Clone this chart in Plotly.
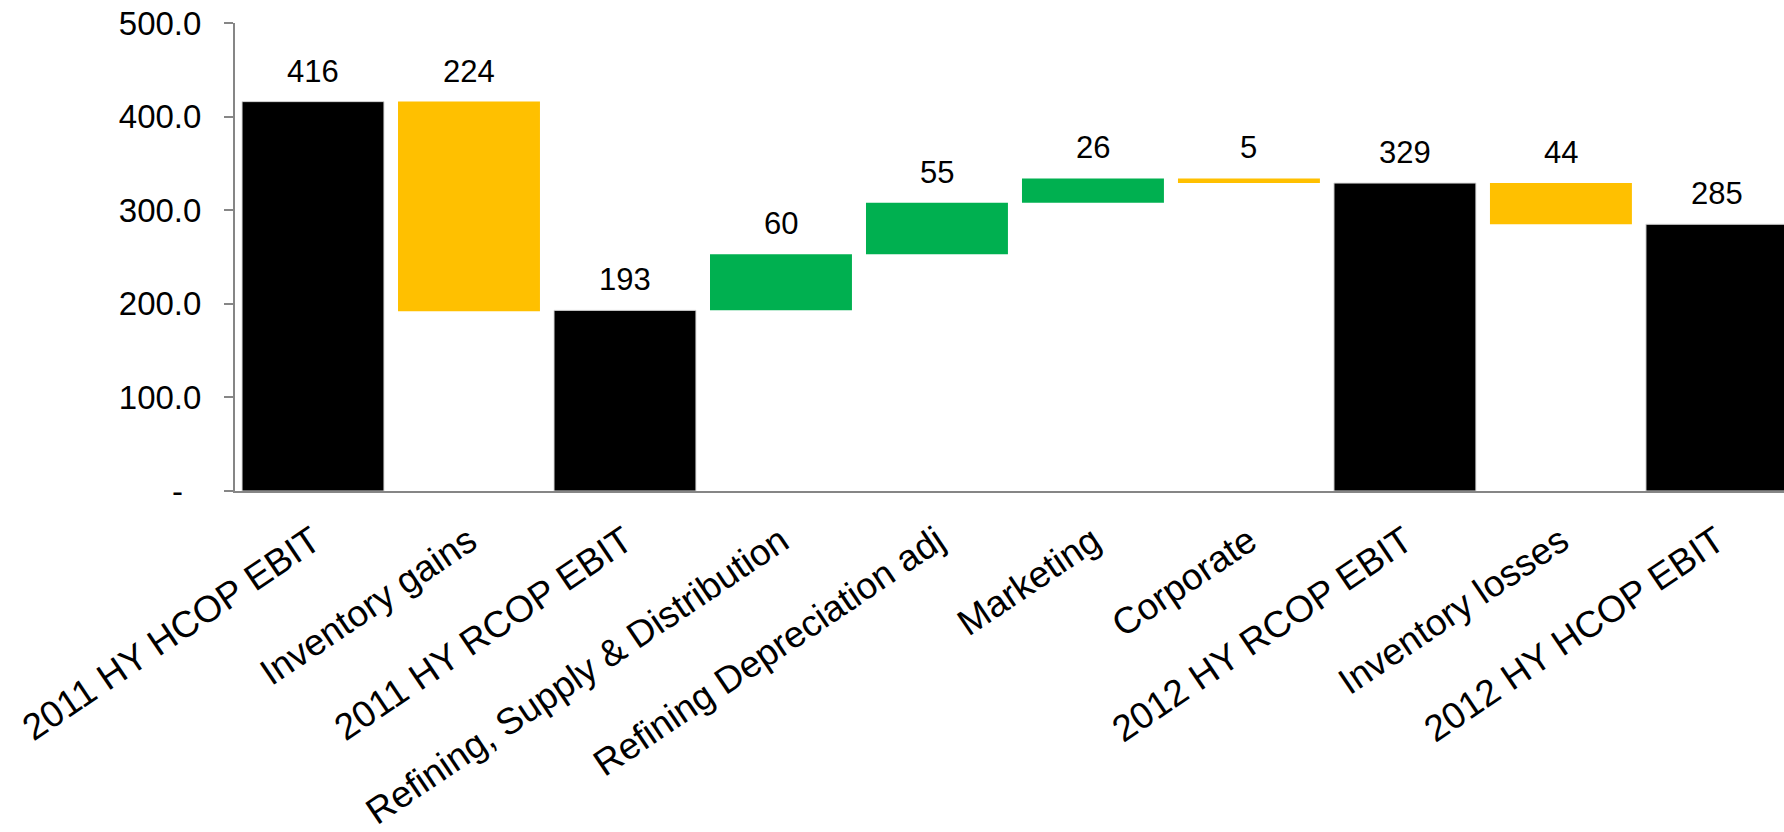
import plotly.graph_objects as go

# EBIT bridge, 2011 HY to 2012 HY
categories = [
    "2011 HY HCOP EBIT",
    "Inventory gains",
    "2011 HY RCOP EBIT",
    "Refining, Supply & Distribution",
    "Refining Depreciation adj",
    "Marketing",
    "Corporate",
    "2012 HY RCOP EBIT",
    "Inventory losses",
    "2012 HY HCOP EBIT",
]
measures = ["absolute", "relative", "absolute", "relative", "relative",
            "relative", "relative", "absolute", "relative", "absolute"]
values = [416, -224, 193, 60, 55, 26, -5, 329, -44, 285]

y_tickvals = [0, 100, 200, 300, 400, 500]
y_ticktext = ["-\u00a0\u00a0", "100.0", "200.0", "300.0", "400.0", "500.0"]

FONT = "Liberation Sans, Arial, sans-serif"
AXIS_GREY = "#868686"

fig = go.Figure(
    go.Waterfall(
        x=categories,
        y=values,
        measure=measures,
        increasing=dict(marker=dict(color="#00B050")),
        decreasing=dict(marker=dict(color="#FFC000")),
        totals=dict(marker=dict(color="#000000", line=dict(color="#d9d9d9", width=1))),
        connector=dict(visible=False),
        textposition="none",
        hoverinfo="x+y",
    )
)

# value labels sit above the upper edge of each bar
level = 0
for cat, m, v in zip(categories, measures, values):
    if m == "absolute":
        level = v
        top = v
    else:
        top = max(level, level + v)
        level += v
    fig.add_annotation(
        x=cat, y=top, text=str(abs(v)), showarrow=False,
        yanchor="bottom", yshift=11,
        font=dict(family=FONT, size=31, color="#000000"),
    )

fig.update_layout(
    width=1784, height=832,
    margin=dict(l=235, r=0, t=23, b=341),
    paper_bgcolor="white", plot_bgcolor="white",
    waterfallgap=0.09,
    showlegend=False,
    font=dict(family=FONT, size=31, color="#000000"),
)
fig.update_xaxes(
    type="category",
    range=[-0.5, 9.43],
    tickangle=-34,
    showline=True, linecolor=AXIS_GREY, linewidth=2,
    ticks="", showgrid=False,
    tickfont=dict(family=FONT, size=37, color="#000000"),
    ticklabelstandoff=12,
)
fig.update_yaxes(
    range=[0, 500],
    tickvals=y_tickvals, ticktext=y_ticktext,
    showline=True, linecolor=AXIS_GREY, linewidth=2,
    ticks="outside", ticklen=9, tickcolor=AXIS_GREY, tickwidth=2,
    showgrid=False, zeroline=False,
    tickfont=dict(family=FONT, size=33, color="#000000"),
    ticklabelstandoff=16,
)

fig.write_html("out.html")
